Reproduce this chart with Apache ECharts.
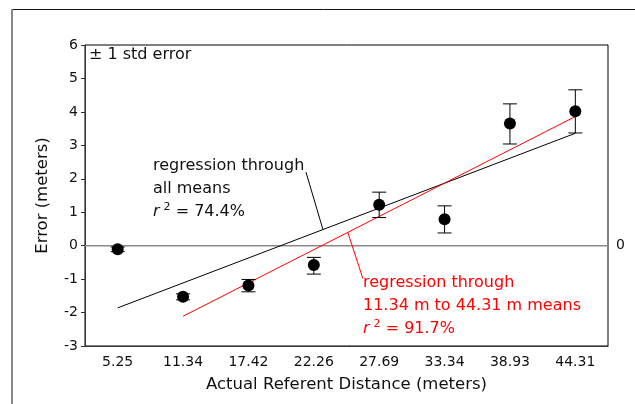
<!DOCTYPE html>
<html><head><meta charset="utf-8">
<script src="https://cdn.jsdelivr.net/npm/echarts@6/dist/echarts.min.js"></script>
<style>html,body{margin:0;padding:0;background:#fff}#c{width:635px;height:404px}</style>
</head><body><div id="c"></div>
<script>
var categories = ['5.25','11.34','17.42','22.26','27.69','33.34','38.93','44.31'];
var means      = [-0.11, -1.53, -1.19, -0.58, 1.22, 0.79, 3.65, 4.02];
var errUpper   = [-0.04, -1.44, -1.01, -0.35, 1.60, 1.19, 4.24, 4.66];
var errLower   = [-0.18, -1.62, -1.38, -0.85, 0.84, 0.38, 3.04, 3.37];
var regAllX    = [0, 7];
var regAllY    = [-1.86, 3.36];
var regSubX    = [1, 7];
var regSubY    = [-2.11, 3.86];
var yTicks     = [-3, -2, -1, 0, 1, 2, 3, 4, 5, 6];

var FONT = 'DejaVu Sans';
var chart = echarts.init(document.getElementById('c'), null, {renderer: 'canvas'});

function pairs(xs, ys){ return xs.map(function(x,i){ return [x, ys[i]]; }); }
var regAllLine = function(x){ return regAllY[0] + (x - regAllX[0]) * (regAllY[1]-regAllY[0])/(regAllX[1]-regAllX[0]); };
var regSubLine = function(x){ return regSubY[0] + (x - regSubX[0]) * (regSubY[1]-regSubY[0])/(regSubX[1]-regSubX[0]); };

function richSet(color){
  return {
    i: {fontStyle: 'italic', fontFamily: FONT, fontSize: 16, fill: color},
    s: {fontFamily: FONT, fontSize: 11, fill: color, padding: [0, 0, 9, 4]},
    n: {fontFamily: FONT, fontSize: 16, fill: color}
  };
}

var option = {
  animation: false,
  backgroundColor: '#fff',
  grid: {left: 85, top: 45, right: 27, bottom: 58, show: true, borderColor: '#000', borderWidth: 1},
  xAxis: [{
    type: 'category', data: categories, boundaryGap: true,
    name: 'Actual Referent Distance (meters)', nameLocation: 'middle', nameGap: 30,
    nameTextStyle: {fontFamily: FONT, fontSize: 16.5, color: '#111'},
    axisLine: {onZero: false, lineStyle: {color: '#333', width: 1}},
    axisTick: {alignWithLabel: true, length: 5, lineStyle: {color: '#333'}},
    axisLabel: {fontFamily: FONT, fontSize: 14, color: '#111', margin: 9},
    splitLine: {show: false}
  }, {
    type: 'value', min: -0.5, max: 7.5, show: false,
    axisLine: {onZero: false}
  }],
  yAxis: {
    type: 'value', min: yTicks[0], max: yTicks[yTicks.length-1], interval: 1,
    name: 'Error (meters)', nameLocation: 'middle', nameGap: 34, nameRotate: 90,
    nameTextStyle: {fontFamily: FONT, fontSize: 16.5, color: '#111'},
    axisLine: {show: true, onZero: false, lineStyle: {color: '#333', width: 1}},
    axisTick: {show: true, length: 4, lineStyle: {color: '#333'}},
    axisLabel: {fontFamily: FONT, fontSize: 14, color: '#111', margin: 7},
    splitLine: {show: false}
  },
  series: [
    {
      type: 'line', xAxisIndex: 1, data: [[-0.5, 0], [7.5, 0]], symbol: 'none',
      lineStyle: {color: '#8a8a8a', width: 1.5}, silent: true, z: 1,
      endLabel: {show: true, formatter: '0', fontFamily: FONT, fontSize: 14, color: '#111', distance: 8}
    },
    {
      type: 'line', xAxisIndex: 1, data: pairs(regAllX, regAllY), symbol: 'none',
      lineStyle: {color: '#000', width: 1}, z: 3
    },
    {
      type: 'line', xAxisIndex: 1, data: pairs(regSubX, regSubY), symbol: 'none',
      lineStyle: {color: '#ff0000', width: 1}, z: 3
    },
    {
      type: 'line', xAxisIndex: 1, data: [[2.88, 2.2], [3.14, regAllLine(3.14)]], symbol: 'none',
      lineStyle: {color: '#000', width: 1}, z: 3
    },
    {
      type: 'line', xAxisIndex: 1, data: [[3.52, regSubLine(3.52)], [3.75, -0.98]], symbol: 'none',
      lineStyle: {color: '#ff0000', width: 1}, z: 3
    },
    {
      type: 'custom', z: 4,
      data: categories.map(function(c,i){ return [i, errLower[i], errUpper[i]]; }),
      renderItem: function(params, api){
        var lo = api.coord([api.value(0), api.value(1)]);
        var hi = api.coord([api.value(0), api.value(2)]);
        var hw = 7;
        var st = {stroke: '#000', lineWidth: 1};
        return {type: 'group', children: [
          {type: 'line', shape: {x1: lo[0], y1: lo[1], x2: hi[0], y2: hi[1]}, style: st},
          {type: 'line', shape: {x1: lo[0]-hw, y1: lo[1], x2: lo[0]+hw, y2: lo[1]}, style: st},
          {type: 'line', shape: {x1: hi[0]-hw, y1: hi[1], x2: hi[0]+hw, y2: hi[1]}, style: st}
        ]};
      }
    },
    {
      type: 'scatter', data: means, symbol: 'circle', symbolSize: 12,
      itemStyle: {color: '#000', opacity: 1}, z: 5
    }
  ],
  graphic: [
    {type: 'line', shape: {x1: 12, y1: 9.5, x2: 635, y2: 9.5}, style: {stroke: '#111', lineWidth: 1}},
    {type: 'line', shape: {x1: 12, y1: 9, x2: 12, y2: 404}, style: {stroke: '#888', lineWidth: 2}},
    {type: 'text', left: 89, top: 47, style: {text: '± 1 std error', fontFamily: FONT, fontSize: 16, fill: '#111'}},
    {type: 'text', left: 153, top: 154, style: {
      text: 'regression through\nall means\n{i|r}{s|2}{n|\u00a0=\u00a074.4%}',
      fontFamily: FONT, fontSize: 16, fill: '#111', lineHeight: 23,
      rich: richSet('#111')
    }},
    {type: 'text', left: 363, top: 271, style: {
      text: 'regression through\n11.34 m to 44.31 m means\n{i|r}{s|2}{n|\u00a0=\u00a091.7%}',
      fontFamily: FONT, fontSize: 16, fill: '#ff0000', lineHeight: 23,
      rich: richSet('#ff0000')
    }}
  ]
};
chart.setOption(option);
</script>
</body></html>
